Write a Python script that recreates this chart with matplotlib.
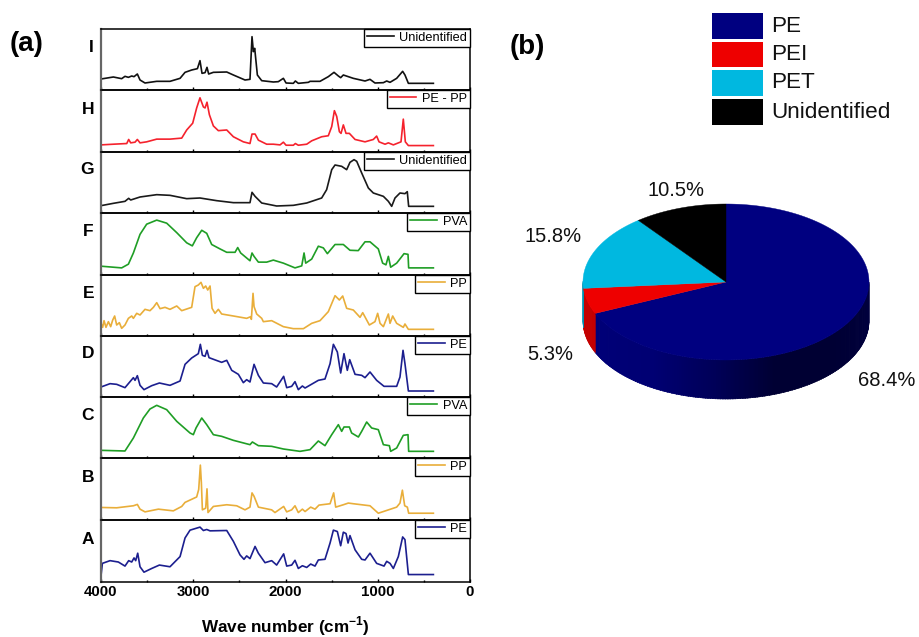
import numpy as np
import matplotlib
matplotlib.use("Agg")
import matplotlib.pyplot as plt
from matplotlib.patches import Rectangle

plt.rcParams["font.family"] = ["Liberation Sans", "DejaVu Sans"]
plt.rcParams["mathtext.fontset"] = "custom"
plt.rcParams["mathtext.bf"] = "Liberation Sans:bold"
plt.rcParams["mathtext.rm"] = "Liberation Sans"

W, H = 919, 637

# =========================
# Spectra (wave number, intensity in arbitrary units)
# =========================
spec_i = [(4000,33),(3866,39),(3776,34),(3740,41),(3703,38),(3667,42),(3642,40),(3606,48),(3577,30),(3523,21),
          (3396,26),(3252,26),(3143,35),(3089,53),(3017,60),(2955,64),(2927,88),(2905,50),(2872,52),(2851,68),
          (2833,48),(2782,53),(2637,54),(2565,45),(2439,30),(2385,32),(2363,160),(2348,115),(2334,125),(2305,45),
          (2258,28),(2132,24),(2078,25),(2023,35),(1994,21),(1915,20),(1893,27),(1861,20),(1752,23),(1734,26),
          (1626,26),(1536,40),(1474,53),(1427,42),(1402,37),(1373,45),(1319,40),(1265,35),(1138,27),(1084,32),
          (1030,21),(939,22),(903,27),(867,23),(795,35),(730,56),(705,45),(668,20),(397,20)]
spec_h = [(4000,21),(3866,23),(3721,25),(3700,37),(3678,27),(3631,29),(3606,37),(3577,27),(3505,30),(3396,38),
          (3252,38),(3125,41),(3071,65),(3006,85),(2963,130),(2927,160),(2890,133),(2872,130),(2851,147),(2825,110),
          (2782,77),(2728,63),(2637,65),(2565,45),(2457,30),(2385,25),(2363,53),(2330,53),(2294,35),(2204,23),
          (2132,23),(2059,21),(2023,29),(1994,20),(1915,20),(1893,25),(1861,20),(1770,23),(1716,33),(1608,45),
          (1536,48),(1499,75),(1470,122),(1445,105),(1416,60),(1398,55),(1373,80),(1344,55),(1308,55),(1246,37),
          (1138,30),(1048,37),(1012,47),(986,30),(921,23),(885,27),(831,21),(748,30),(723,97),(701,30),(668,19),(397,19)]
spec_g = [(4000,22),(3866,29),(3740,35),(3700,44),(3678,39),(3577,48),(3396,55),(3252,53),(3071,43),(2927,45),
          (2746,37),(2565,31),(2385,31),(2363,62),(2330,50),(2258,30),(2096,21),(1915,23),(1770,30),(1608,45),
          (1554,70),(1499,130),(1463,144),(1391,140),(1337,130),(1301,152),(1257,160),(1228,155),(1174,120),(1102,75),
          (1048,60),(939,50),(885,35),(849,20),(813,45),(759,60),(705,58),(680,64),(665,20),(397,20)]
spec_f = [(4000,26),(3866,23),(3776,21),(3703,32),(3649,65),(3577,120),(3505,150),(3396,162),(3288,153),(3179,125),
          (3071,95),(3010,86),(2963,110),(2908,132),(2854,123),(2800,90),(2710,77),(2637,67),(2547,67),(2518,81),
          (2486,65),(2385,42),(2363,65),(2341,55),(2294,38),(2204,38),(2132,44),(2023,35),(1897,21),(1824,27),
          (1799,65),(1781,35),(1716,47),(1644,85),(1590,80),(1546,63),(1463,90),(1373,90),(1301,73),(1211,72),
          (1138,98),(1084,98),(994,77),(947,35),(911,30),(885,55),(860,23),(795,35),(715,63),(672,61),(665,21),(397,21)]
spec_e = [(4000,38),(3982,26),(3967,46),(3946,26),(3920,43),(3895,28),(3873,48),(3852,60),(3830,33),(3801,40),
          (3776,23),(3740,33),(3703,53),(3667,60),(3649,53),(3613,68),(3577,63),(3523,80),(3469,76),(3432,86),
          (3396,100),(3360,82),(3306,86),(3252,80),(3179,90),(3125,76),(3017,86),(2981,148),(2945,153),(2916,161),
          (2890,143),(2865,150),(2843,138),(2818,150),(2796,83),(2764,68),(2728,80),(2692,66),(2565,60),(2421,53),
          (2377,58),(2370,50),(2352,128),(2341,88),(2312,66),(2258,53),(2240,43),(2150,46),(2023,28),(1915,22),
          (1806,22),(1716,38),(1626,46),(1536,73),(1463,121),(1416,108),(1380,120),(1337,83),(1265,78),(1192,56),
          (1163,70),(1091,33),(1030,43),(1001,68),(975,38),(939,28),(885,66),(867,38),(838,60),(795,38),
          (723,26),(705,36),(668,20),(397,20)]
spec_d = [(4000,30),(3902,40),(3830,38),(3740,28),(3649,58),(3631,50),(3606,64),(3577,35),(3534,22),(3450,34),
          (3367,42),(3252,35),(3143,48),(3089,98),(3017,117),(2945,130),(2923,158),(2901,125),(2872,122),(2851,140),
          (2829,118),(2692,104),(2637,110),(2583,80),(2511,68),(2457,43),(2421,52),(2385,45),(2341,98),(2294,65),
          (2240,42),(2150,40),(2096,30),(2020,62),(1987,28),(1933,32),(1897,46),(1861,22),(1817,33),(1788,27),
          (1644,50),(1572,54),(1517,100),(1481,158),(1438,135),(1402,72),(1366,130),(1330,80),(1304,112),(1246,68),
          (1174,65),(1138,58),(1084,75),(1012,50),(932,32),(795,32),(759,60),(726,140),(705,100),(668,18),(397,18)]
spec_c = [(4000,23),(3740,21),(3649,60),(3541,120),(3469,147),(3396,158),(3288,145),(3179,110),(3035,75),(2999,70),
          (2970,90),(2908,120),(2854,100),(2782,70),(2692,65),(2565,53),(2385,40),(2359,48),(2294,37),(2150,35),
          (2023,27),(1843,20),(1734,25),(1644,51),(1572,37),(1499,70),(1427,100),(1391,80),(1366,93),(1308,93),
          (1283,75),(1210,63),(1174,80),(1120,108),(1066,90),(994,85),(939,40),(874,37),(860,20),(795,30),
          (723,68),(672,70),(665,20),(397,20)]
spec_b = [(4000,37),(3830,36),(3649,42),(3606,46),(3577,32),(3523,24),(3378,32),(3216,27),(3125,40),(3089,52),
          (2963,68),(2941,90),(2923,162),(2912,110),(2901,30),(2865,35),(2851,92),(2840,22),(2782,40),(2637,45),
          (2529,42),(2439,30),(2385,38),(2363,80),(2341,70),(2294,38),(2240,35),(2150,30),(2114,22),(2020,40),
          (1987,24),(1933,30),(1897,42),(1861,22),(1817,32),(1788,25),(1727,38),(1680,32),(1637,44),(1517,48),
          (1478,80),(1456,38),(1373,45),(1319,50),(1265,48),(1084,42),(994,20),(795,38),(759,50),(733,88),
          (708,42),(679,38),(665,20),(397,20)]
spec_a = [(4000,18),(3985,55),(3902,63),(3812,59),(3740,47),(3700,63),(3667,59),(3642,71),(3624,63),(3602,85),(3577,45),
          (3534,29),(3450,40),(3367,50),(3252,45),(3143,75),(3089,130),(3035,153),(2927,162),(2890,152),(2854,155),
          (2818,151),(2637,152),(2565,120),(2493,80),(2450,67),(2421,77),(2385,69),(2330,105),(2294,85),(2222,57),
          (2150,63),(2096,50),(2020,83),(1987,47),(1933,50),(1897,64),(1861,40),(1817,48),(1770,43),(1727,53),
          (1680,47),(1644,65),(1572,67),(1517,115),(1481,153),(1438,149),(1402,107),(1373,147),(1344,143),(1322,115),
          (1301,137),(1246,95),(1174,67),(1138,65),(1084,85),(1012,55),(932,47),(903,61),(867,55),(831,40),
          (777,75),(730,133),(705,125),(668,22),(397,22)]

panel_letters = ["I", "H", "G", "F", "E", "D", "C", "B", "A"]
panel_spectra = [spec_i, spec_h, spec_g, spec_f, spec_e, spec_d, spec_c, spec_b, spec_a]
panel_names = ["Unidentified", "PE - PP", "Unidentified", "PVA", "PP", "PE", "PVA", "PP", "PE"]
panel_colors = ["#111111", "#f5222d", "#1a1a1a", "#1f9e25", "#e9ae3a", "#1c1f8f", "#1f9e25", "#e9ae3a", "#1c1f8f"]

# pixel rows of the panel edges
panel_edges = [29, 90, 152, 213, 275, 336, 397, 458, 520, 582]
letter_rows = [48, 110, 170, 232, 293, 354, 416, 477, 539]

# pie
pie_labels = ["PE", "PEI", "PET", "Unidentified"]
pie_values = [68.4, 5.3, 15.8, 10.5]
pie_colors = ["#000080", "#ee0000", "#00b8e0", "#000000"]
side_colors = ["#000070", "#c40000", "#0090b0", "#000000"]
pie_text = ["68.4%", "5.3%", "15.8%", "10.5%"]
pie_text_pos = [(887, 380), (550, 354), (553, 236), (676, 190)]


def px_axes(fig, x0, y0, x1, y1):
    return fig.add_axes([x0 / W, 1 - y1 / H, (x1 - x0) / W, (y1 - y0) / H])


fig = plt.figure(figsize=(W / 100, H / 100), dpi=100)

# =========================
# (a) stacked spectra
# =========================
for i, (spec, name, color) in enumerate(zip(panel_spectra, panel_names, panel_colors)):
    ax = px_axes(fig, 101, panel_edges[i], 470, panel_edges[i + 1])
    wn, val = zip(*spec)
    ax.plot(wn, val, color=color, lw=1.2, label=name)
    ax.set_xlim(4000, 0)
    ax.set_ylim(0, 183)
    ax.set_yticks([])
    ax.set_xticks([4000, 3000, 2000, 1000, 0])
    ax.set_xticks([3500, 2500, 1500, 500], minor=True)
    ax.tick_params(axis="x", which="major", length=2.5, width=1, direction="in")
    ax.tick_params(axis="x", which="minor", length=1.5, width=1, direction="in")
    for s in ax.spines.values():
        s.set_linewidth(1.1)
    ax.spines["left"].set_color("#666666")
    ax.spines["left"].set_linewidth(1.6)
    if i < 8:
        ax.set_xticklabels([])
    else:
        ax.set_xticklabels(["4000", "3000", "2000", "1000", "0"], fontsize=10.8, fontweight="bold")
        ax.tick_params(axis="x", which="major", pad=2.5)
    leg = ax.legend(loc="upper right", fontsize=9.2, frameon=True, fancybox=False, framealpha=1,
                    edgecolor="black", handlelength=2.1, handletextpad=0.45, borderpad=0.22,
                    borderaxespad=0.0, labelspacing=0)
    leg.get_frame().set_linewidth(1.0)
    ax.patch.set_alpha(0)

over = fig.add_axes([0, 0, 1, 1], zorder=-1)
over.set_xlim(0, W)
over.set_ylim(H, 0)
over.axis("off")

for letter, row in zip(panel_letters, letter_rows):
    over.text(94, row, letter, ha="right", va="center", fontsize=12.5, fontweight="bold")

over.text(10, 44, "(a)", ha="left", va="center", fontsize=20, fontweight="bold")
over.text(510, 47, "(b)", ha="left", va="center", fontsize=20, fontweight="bold")
over.text(285, 632, r"Wave number (cm$^{\mathbf{-1}}$)", ha="center", va="baseline", fontsize=12.3, fontweight="bold")

# =========================
# (b) 3D looking pie
# =========================
cx, cy, rx, ry, depth = 726, 282, 143, 78, 39


def ell(theta):
    # theta in degrees, clockwise from twelve o'clock
    t = np.radians(theta)
    return cx + rx * np.sin(t), cy - ry * np.cos(t)


ends = np.cumsum(pie_values) / 100 * 360
starts = np.concatenate([[0], ends[:-1]])

# side wall, front half only
steps = np.arange(90, 270, 1.0)
for a in steps:
    b = a + 1.5
    x = np.array([ell(a)[0], ell(b)[0], ell(b)[0], ell(a)[0]])
    y = np.array([ell(a)[1], ell(b)[1], ell(b)[1] + depth, ell(a)[1] + depth])
    k = np.searchsorted(ends, a + 0.5)
    col = side_colors[k]
    if k == 0:
        # dark band towards the lower right of the wall
        shade = np.interp(a, [90, 135, 160, 185, 210, 246], [0.25, 0.20, 0.20, 0.35, 0.45, 0.47])
        col = (0, 0, shade)
    over.fill(x, y, color=col, lw=0.4)

for s, e, col in zip(starts, ends, pie_colors):
    th = np.linspace(s, e, 200)
    xs, ys = ell(th)
    over.fill(np.r_[cx, xs], np.r_[cy, ys], color=col, lw=0.3)

for txt, (tx, ty) in zip(pie_text, pie_text_pos):
    over.text(tx, ty, txt, ha="center", va="center", fontsize=14.5, color="#111111")

# legend swatches
swatch_rows = [(13, 39), (42, 67), (70, 96), (99, 125)]
for label, col, (y0, y1) in zip(pie_labels, pie_colors, swatch_rows):
    over.add_patch(Rectangle((712, y0), 51, y1 - y0, color=col, lw=0))
    over.text(771, (y0 + y1) / 2, label, ha="left", va="center", fontsize=16.2, color="#111111")

fig.savefig("out.png", dpi=100)
